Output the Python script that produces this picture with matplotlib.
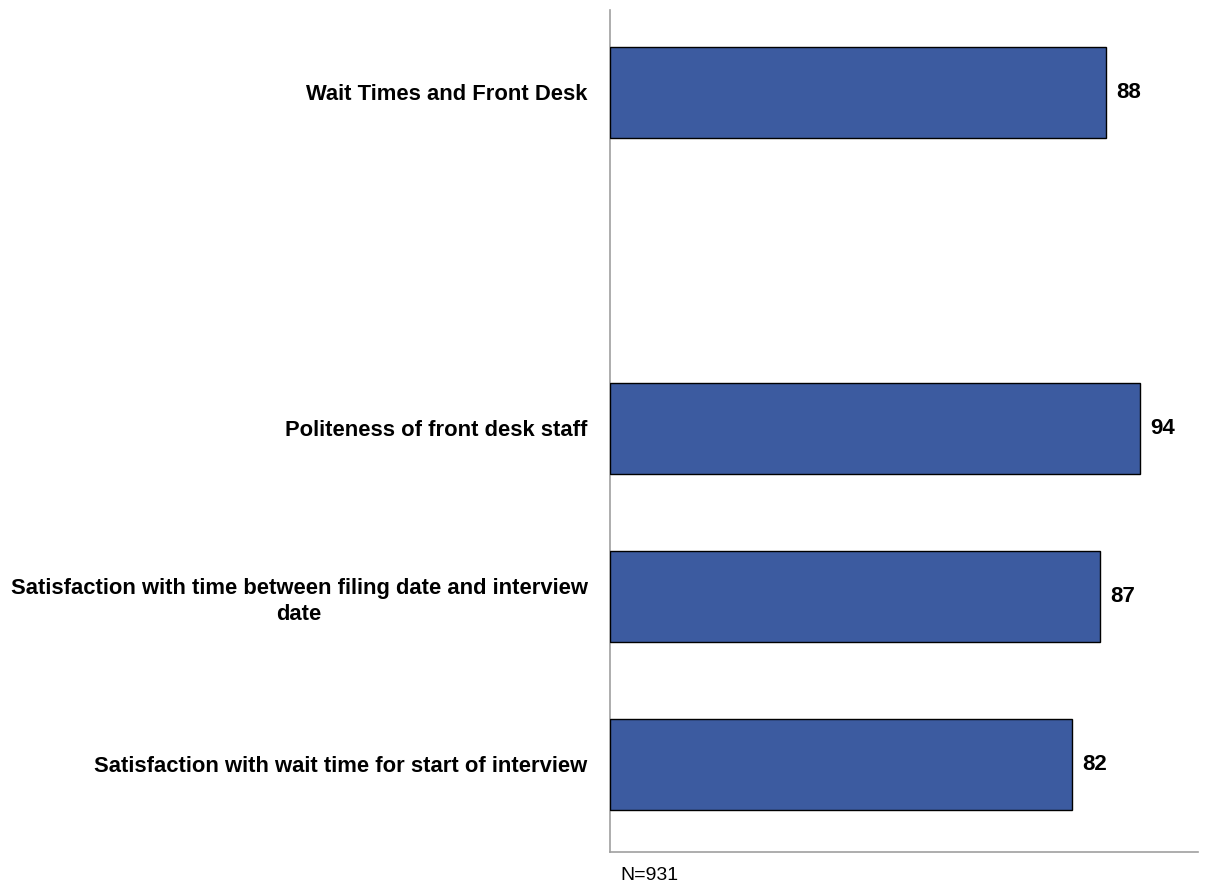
import matplotlib
matplotlib.use("Agg")
import matplotlib.pyplot as plt

# data; the empty entry is the blank slot under the header bar
categories = [
    "Wait Times and Front Desk",
    "",
    "Politeness of front desk staff",
    "Satisfaction with time between filing date and interview\ndate",
    "Satisfaction with wait time for start of interview",
]
values = [88, None, 94, 87, 82]
note = "N=931"

plt.rcParams["font.family"] = ["Liberation Sans", "DejaVu Sans"]

fig = plt.figure(figsize=(12.27, 8.84), dpi=100)
ax = fig.add_axes([0.4971, 0.0362, 0.4793, 0.9525])

pos = [i for i, v in enumerate(values) if v is not None]
vals = [v for v in values if v is not None]
ax.barh(pos, vals, height=0.54, color="#3C5BA0", edgecolor="black", linewidth=1.0, zorder=3)

for p, v in zip(pos, vals):
    ax.text(v + 1.8, p, str(v), va="center", ha="left", fontsize=16, fontweight="bold")

ax.set_xlim(0, 104.3)
ax.set_ylim(4.521, -0.491)
ax.set_yticks(range(len(categories)))
ax.set_yticklabels(categories, fontsize=15.8, fontweight="bold",
                   multialignment="center", linespacing=1.3)
ax.tick_params(axis="y", length=0, pad=16)
ax.set_xticks([])

for side in ("top", "right"):
    ax.spines[side].set_visible(False)
for side in ("left", "bottom"):
    ax.spines[side].set_color("#A0A0A0")
    ax.spines[side].set_linewidth(1.2)

fig.text(620 / 1227, 1 - 876 / 884, note, fontsize=14, ha="left", va="center")

fig.savefig("out.png", dpi=100)
